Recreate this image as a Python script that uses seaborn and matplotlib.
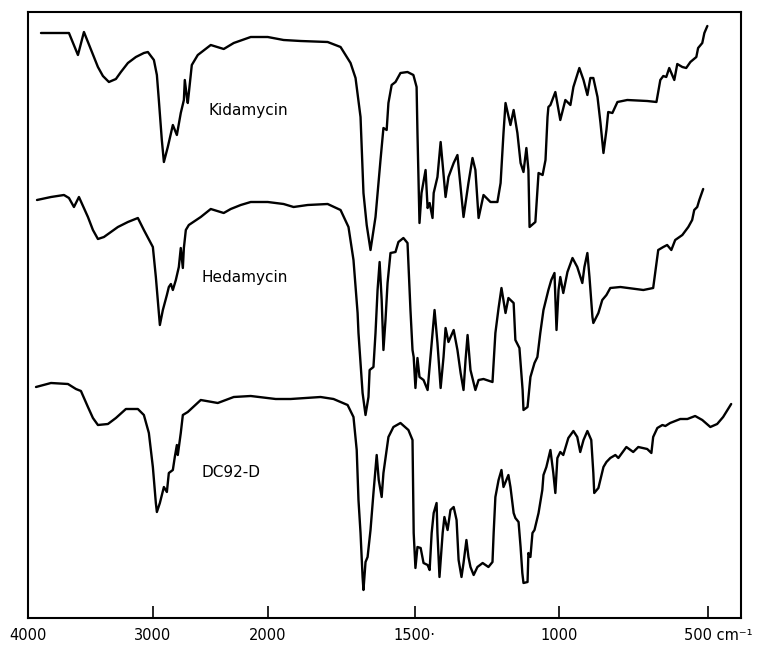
import numpy as np
import pandas as pd
import matplotlib
matplotlib.use("Agg")
import matplotlib.pyplot as plt
import matplotlib.transforms as mtrans
import seaborn as sns

# ---------------- data (wavenumber cm-1, transmittance in arbitrary chart units) -------------
kid_wn = [3896, 3672, 3600, 3552, 3440, 3400, 3352, 3296, 3256, 3200, 3136, 3072, 3040, 2991, 2965,
          2948, 2922, 2904, 2870,
          2826, 2791, 2757, 2730, 2722, 2704, 2696, 2678, 2661, 2609, 2496, 2383, 2296, 2148, 2000,
          1946, 1888, 1796, 1752, 1718, 1701, 1684, 1674, 1663, 1650, 1633, 1616, 1606, 1595, 1589,
          1578, 1565, 1548, 1524, 1504, 1493, 1490, 1486, 1483, 1476, 1462, 1455, 1448, 1438, 1434,
          1421, 1410, 1393, 1383, 1365, 1352, 1331, 1314, 1300, 1290, 1279, 1262, 1238, 1214, 1203,
          1193, 1186, 1169, 1158, 1145, 1134, 1124, 1114, 1107, 1103, 1083, 1076, 1072, 1058, 1048,
          1041, 1038, 1031, 1014, 997, 980, 963, 953, 933, 919, 906, 896, 886, 872, 862,
          852, 842, 836, 822, 805, 772, 705, 674, 661, 651, 641, 631, 614, 604, 587,
          574, 560, 540, 534, 520, 513, 503]
kid_t = [585, 585, 563, 586, 551, 542, 536, 539, 546, 555, 561, 565, 566, 558, 543,
         518, 478, 456, 471,
         493, 483, 505, 518, 538, 521, 515, 535, 553, 563, 573, 569, 575, 581, 581,
         578, 577, 576, 571, 555, 540, 501, 425, 393, 368, 401, 458, 490, 488, 515,
         533, 536, 545, 546, 543, 531, 485, 435, 395, 425, 448, 410, 415, 400, 425,
         441, 476, 421, 441, 455, 463, 401, 435, 460, 448, 400, 423, 416, 416, 435,
         485, 515, 493, 508, 485, 455, 446, 470, 448, 391, 396, 428, 445, 443, 458,
         501, 511, 513, 526, 498, 518, 513, 531, 550, 538, 523, 540, 540, 521, 495,
         465, 488, 506, 505, 516, 518, 517, 516, 538, 542, 541, 550, 538, 554, 551,
         550, 556, 561, 570, 575, 585, 592]

hed_wn = [3928, 3816, 3712, 3672, 3632, 3592, 3520, 3480, 3440, 3392, 3336, 3280, 3200, 3120, 3072,
          3000, 2974,
          2948, 2939, 2913, 2878, 2861, 2843, 2826, 2800, 2774, 2757, 2739, 2730, 2713, 2687, 2583,
          2496, 2383, 2322, 2235, 2148, 2000, 1946, 1912, 1864, 1796, 1752, 1725, 1708, 1694, 1691,
          1677, 1667, 1657, 1653, 1640, 1633, 1626, 1619, 1612, 1606, 1599, 1592, 1582, 1565, 1555,
          1538, 1524, 1514, 1507, 1503, 1497, 1490, 1483, 1469, 1455, 1448, 1438, 1431, 1421, 1410,
          1400, 1393, 1383, 1365, 1352, 1341, 1331, 1324, 1317, 1307, 1290, 1279, 1262, 1231, 1221,
          1210, 1200, 1186, 1176, 1158, 1152, 1138, 1127, 1124, 1110, 1100, 1086, 1076, 1066, 1055,
          1038, 1028, 1017, 1010, 1003, 997, 987, 973, 956, 940, 923, 916, 906, 899, 889,
          886, 869, 856, 842, 829, 795, 718, 685, 674, 668, 651, 638, 624, 611, 587,
          567, 554, 547, 537, 530, 517]
hed_t = [418, 421, 423, 420, 411, 421, 401, 388, 379, 381, 386, 391, 396, 400, 388,
         371, 341,
         305, 293, 308, 323, 331, 334, 328, 338, 351, 370, 350, 370, 388, 393, 401,
         409, 405, 409, 413, 416, 416, 414, 411, 413, 414, 408, 391, 358, 305, 285,
         225, 203, 221, 248, 251, 285, 328, 356, 318, 268, 298, 335, 365, 366, 376,
         380, 375, 308, 268, 261, 230, 260, 241, 238, 228, 251, 285, 308, 275, 230,
         261, 290, 276, 288, 268, 245, 228, 258, 283, 248, 228, 238, 239, 236, 285,
         310, 330, 305, 320, 315, 278, 270, 228, 208, 211, 241, 255, 261, 285, 308,
         328, 338, 345, 288, 328, 341, 325, 346, 360, 351, 335, 351, 365, 341, 301,
         295, 305, 318, 323, 330, 331, 328, 330, 355, 368, 371, 373, 368, 378, 383,
         391, 398, 408, 411, 418, 429]

dc_wn = [3936, 3816, 3680, 3616, 3576, 3520, 3480, 3440, 3360, 3296, 3216, 3120, 3072, 3032, 3000,
         2974,
         2965, 2939, 2904, 2878, 2861, 2826, 2809, 2791, 2783, 2757, 2739, 2696, 2583, 2435, 2296,
         2148, 1973, 1922, 1820, 1776, 1728, 1708, 1697, 1691, 1684, 1677, 1674, 1667, 1660, 1650,
         1640, 1629, 1622, 1612, 1606, 1589, 1572, 1548, 1521, 1507, 1503, 1497, 1490, 1479, 1469,
         1455, 1448, 1441, 1434, 1424, 1421, 1414, 1403, 1397, 1386, 1376, 1365, 1355, 1348, 1338,
         1331, 1321, 1314, 1307, 1296, 1283, 1265, 1245, 1231, 1227, 1221, 1210, 1200, 1193, 1176,
         1169, 1158, 1152, 1141, 1134, 1128, 1124, 1110, 1107, 1100, 1093, 1086, 1072, 1059, 1055,
         1045, 1031, 1021, 1014, 1007, 997, 987, 980, 970, 953, 940, 930, 919, 906, 893,
         886, 883, 869, 852, 842, 829, 812, 802, 775, 752, 735, 705, 691, 685, 671,
         654, 644, 628, 594, 570, 544, 520, 493, 470, 450, 423]
dc_t = [231, 235, 234, 229, 227, 211, 200, 193, 194, 200, 209, 209, 203, 185, 151,
        115,
        106, 115, 131, 126, 145, 148, 161, 173, 163, 185, 203, 206, 218, 215, 221,
        222, 219, 219, 221, 219, 213, 201, 168, 118, 85, 41, 28, 56, 61, 88,
        125, 163, 138, 121, 145, 181, 191, 195, 188, 178, 85, 50, 71, 70, 55,
        53, 48, 85, 105, 115, 85, 41, 85, 101, 88, 108, 111, 98, 58, 41,
        55, 78, 61, 51, 43, 51, 55, 51, 56, 85, 121, 138, 148, 131, 143,
        131, 105, 100, 96, 71, 45, 35, 36, 65, 61, 85, 88, 105, 128, 143,
        151, 168, 145, 125, 160, 166, 163, 170, 180, 187, 181, 166, 178, 187, 178,
        145, 125, 130, 151, 156, 160, 163, 160, 171, 166, 171, 169, 165, 181, 190,
        193, 192, 195, 199, 199, 202, 198, 191, 194, 201, 214]

names = ["Kidamycin", "Hedamycin", "DC92-D"]
label_wn = [2165, 2200, 2321]
label_t = [508, 341, 146]

tick_values = [4000, 3000, 2000, 1500, 1000, 500]
tick_labels = ["4000", "3000", "2000", "1500\u00b7", "1000", ""]

# chart-paper scale: breakpoints of the piecewise-linear wavenumber axis
scale_wn = np.array([390, 500, 1000, 1500, 2000, 3000, 4000], dtype=float)
scale_pos = np.array([713.8, 681, 532, 387, 240, 125, 0], dtype=float)
g_pos = scale_pos.max() - scale_pos  # increasing with wavenumber


def forward(w):
    w = np.asarray(w, dtype=float)
    return np.interp(w, scale_wn, g_pos)


def inverse(p):
    p = np.asarray(p, dtype=float)
    return np.interp(p, g_pos, scale_wn)


# ---------------- plot ----------------
sns.set_style("white")
plt.rcParams["font.family"] = ["DejaVu Sans"]

fig = plt.figure(figsize=(7.66, 6.46), dpi=100)
ax = fig.add_axes([28 / 766, 1 - 618 / 646, (741 - 28) / 766, (618 - 12) / 646])

series = [(kid_wn, kid_t), (hed_wn, hed_t), (dc_wn, dc_t)]
for (w, t) in series:
    sns.lineplot(x=w, y=t, ax=ax, color="black", linewidth=1.7, sort=False,
                 estimator=None, legend=False)

ax.set_xscale("function", functions=(forward, inverse))
ax.set_xlim(4000, 390)
ax.set_ylim(0, 606)

for name, lw_, lt in zip(names, label_wn, label_t):
    ax.text(lw_, lt, name, ha="center", va="center", fontsize=11, color="black")

ax.set_xticks(tick_values)
ax.set_xticklabels(tick_labels)
ax.set_yticks([])
ax.tick_params(axis="x", direction="in", length=8.5, width=1.2, pad=7,
               labelsize=10.5, colors="black", top=False, bottom=True)
ax.set_xlabel("")
ax.set_ylabel("")
for sp in ax.spines.values():
    sp.set_visible(True)
    sp.set_color("black")
    sp.set_linewidth(1.5)

trans = mtrans.offset_copy(ax.get_xaxis_transform(), fig=fig, x=-24, y=-9.7, units="dots")
ax.text(500, 0, "500 cm\u207b\u00b9", transform=trans, ha="left", va="top",
        fontsize=10.5, color="black")

fig.savefig("out.png", dpi=100)
